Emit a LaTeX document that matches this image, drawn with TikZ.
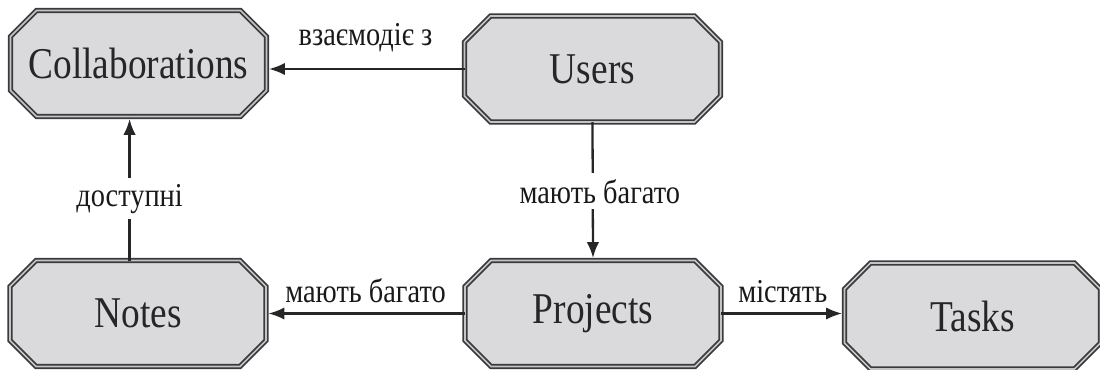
\documentclass[tikz,border=0pt]{standalone}
\usepackage{fontspec}
\setmainfont{Liberation Serif}[FakeStretch=0.85]
\usepackage{tikz}
\usetikzlibrary{arrows.meta, positioning, backgrounds}
\definecolor{boxfill}{HTML}{DADADC}
\definecolor{boxline}{HTML}{3A3A3C}
\definecolor{boxgap}{HTML}{C4C4C6}

\begin{document}
\begin{tikzpicture}[
    entity/.style={minimum width=5.12cm, minimum height=2.12cm, inner sep=0pt, outer sep=0pt,
      text=black!85, font=\fontsize{25}{30}\selectfont},
    octline/.style={draw=boxline, fill=boxfill, line width=1pt, double=boxgap, double distance=0.9pt},
    link/.style={line width=1.3pt, draw=black!85, shorten >=1.4pt, -{Latex[length=9pt, width=7pt]}},
    rel/.style={font=\fontsize{19}{22}\selectfont, text=black!90, fill=white}
  ]
  \useasboundingbox (0, 0) rectangle (22, 7.38);
  % entities
  \node[entity] (collab) at (2.77, 6.11) {Collaborations};
  \node[entity] (users)  at (11.85, 6.0) {Users};
  \node[entity] (notes)  at (2.76, 1.11) {Notes};
  \node[entity] (proj)   at (11.86, 1.11) {Projects};
  \node[entity] (tasks)  at (19.45, 1.06) {Tasks};
  % octagon frames
  \begin{scope}[on background layer]
    \foreach \n in {collab, users, notes, proj, tasks}
      \draw[octline] ([xshift=0.52cm]\n.north west) -- ([xshift=-0.52cm]\n.north east)
        -- ([yshift=-0.52cm]\n.north east) -- ([yshift=0.52cm]\n.south east)
        -- ([xshift=-0.52cm]\n.south east) -- ([xshift=0.52cm]\n.south west)
        -- ([yshift=0.52cm]\n.south west) -- ([yshift=-0.52cm]\n.north west) -- cycle;
  \end{scope}
  % relations
  \draw[link] (users.west) -- (users.west -| collab.east)
    node[midway, above=6pt, rel, fill=none] {взаємодіє з};
  \draw[link] (users.south) -- (proj.north)
    node[midway, rel, xshift=4pt] {мають багато};
  \draw[link] ([xshift=-4.8pt]notes.north) -- ([xshift=-4.8pt]notes.north |- collab.south)
    node[pos=0.43, rel] {доступні};
  \draw[link] (proj.west) -- (proj.west -| notes.east)
    node[midway, above=2pt, rel, fill=none] {мають багато};
  \draw[link] (proj.east) -- (proj.east -| tasks.west)
    node[midway, above=2pt, rel, fill=none] {містять};
\end{tikzpicture}
\end{document}
